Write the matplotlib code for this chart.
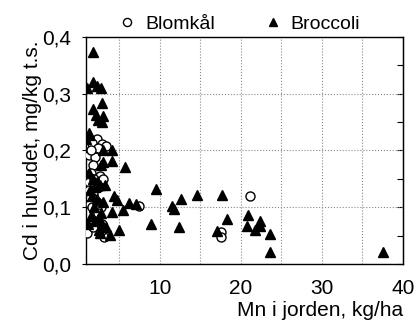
import numpy as np
import matplotlib
matplotlib.use('Agg')
from matplotlib import pyplot as plt
from matplotlib.ticker import FuncFormatter

plt.rcParams['font.family'] = ['Liberation Sans', 'DejaVu Sans']

# Blomkål (open circles): Mn in soil, kg/ha vs Cd in head, mg/kg t.s.
blomkal_mn = [2.2, 2.8, 3.4, 1.6, 2.4, 1.2, 2.0, 1.8, 1.5, 2.6, 3.0, 1.3,
              2.1, 2.5, 1.7, 1.9, 2.3, 1.4, 2.7, 1.6, 2.2, 1.0, 3.1, 2.0,
              2.8, 1.8, 7.4, 21.1, 17.5, 17.5, 1.2, 2.4, 1.5, 2.9, 1.9]
blomkal_cd = [0.221, 0.211, 0.208, 0.213, 0.204, 0.192, 0.189, 0.174, 0.160,
              0.155, 0.150, 0.145, 0.140, 0.135, 0.125, 0.115, 0.110, 0.105,
              0.100, 0.100, 0.095, 0.055, 0.047, 0.085, 0.070, 0.065, 0.102,
              0.120, 0.057, 0.047, 0.130, 0.090, 0.200, 0.060, 0.150]

# Broccoli (filled triangles)
broccoli_mn = [1.7, 1.0, 1.8, 2.2, 2.7, 2.9, 1.8, 2.1, 3.0, 2.4, 2.8, 1.3,
               0.9, 1.2, 4.1, 3.0, 3.0, 4.1, 2.7, 5.7, 9.5, 14.6, 17.7, 12.6,
               4.3, 4.7, 6.2, 7.0, 11.5, 11.8, 5.4, 4.1, 18.3, 20.9, 8.9,
               12.4, 20.7, 21.7, 5.0, 17.0, 3.8, 2.6, 22.4, 22.3, 23.6, 23.6,
               37.5, 1.3, 1.8, 2.3, 1.4, 2.0, 2.6, 1.6, 2.2, 3.0, 1.5, 2.4,
               2.0, 2.9, 3.4, 2.5, 2.7, 1.1, 1.9, 3.2]
broccoli_cd = [0.373, 0.311, 0.321, 0.314, 0.311, 0.283, 0.273, 0.263, 0.261,
               0.254, 0.251, 0.230, 0.221, 0.227, 0.201, 0.201, 0.180, 0.182,
               0.174, 0.171, 0.132, 0.122, 0.122, 0.114, 0.119, 0.113, 0.107,
               0.106, 0.102, 0.096, 0.095, 0.092, 0.080, 0.086, 0.070, 0.065,
               0.066, 0.059, 0.060, 0.058, 0.051, 0.054, 0.076, 0.066, 0.052,
               0.021, 0.021, 0.160, 0.150, 0.145, 0.130, 0.135, 0.140, 0.120,
               0.115, 0.110, 0.085, 0.080, 0.075, 0.070, 0.065, 0.060, 0.090,
               0.070, 0.100, 0.140]

x_ticks = [10, 20, 30, 40]
y_ticks = [0.0, 0.1, 0.2, 0.3, 0.4]

fs = 15

fig = plt.figure(figsize=(4.18, 3.25), dpi=100)
ax = fig.add_axes([0.206, 0.188, 0.758, 0.698])

ax.plot(blomkal_mn, blomkal_cd, 'o', mfc='white', mec='black', mew=1.0,
        ms=6.5, label='Blomkål', zorder=3)
ax.plot(broccoli_mn, broccoli_cd, '^', color='black', ms=6.5,
        label='Broccoli', zorder=4)

ax.set_xlim(0.9, 40)
ax.set_ylim(0, 0.4)
ax.set_xticks(x_ticks)
ax.set_xticks([5, 15, 25, 35], minor=True)
ax.set_yticks(y_ticks)
ax.yaxis.set_major_formatter(FuncFormatter(lambda v, p: ('%.1f' % v).replace('.', ',')))
ax.grid(True, which='both', axis='x', ls=':', color='#888888', lw=0.8)
ax.grid(True, which='major', axis='y', ls=':', color='#888888', lw=0.8)
ax.tick_params(axis='x', which='both', length=0, labelsize=fs, pad=11)
ax.tick_params(axis='y', which='both', direction='out', length=3, labelsize=fs, pad=8)
for s in ax.spines.values():
    s.set_linewidth(1.0)

# right-hand inward ticks every 0.05
sec = ax.secondary_yaxis('right')
sec.set_yticks(np.arange(0, 0.41, 0.05))
sec.tick_params(direction='in', length=4, labelright=False)

ax.set_ylabel('Cd i huvudet, mg/kg t.s.', fontsize=fs, labelpad=0)
ax.set_xlabel('Mn i jorden, kg/ha', fontsize=fs, loc='right', labelpad=2)

fig.legend(loc='center', bbox_to_anchor=(0.574, 0.927), ncol=2, frameon=False,
           fontsize=14, handletextpad=0.5, columnspacing=2.6,
           handlelength=0.8, markerscale=0.9)

fig.savefig('out.png', dpi=100)
